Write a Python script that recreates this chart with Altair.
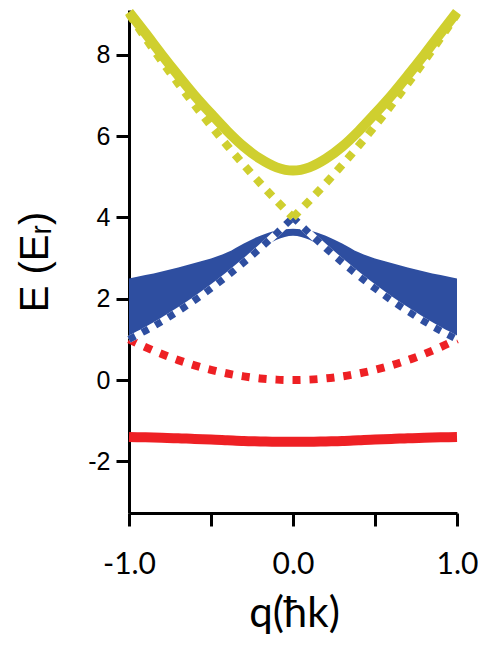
import altair as alt
import pandas as pd

q = [-1.0, -0.9, -0.8, -0.7, -0.6, -0.5, -0.4, -0.3, -0.2, -0.1, 0.0,
     0.1, 0.2, 0.3, 0.4, 0.5, 0.6, 0.7, 0.8, 0.9, 1.0]
third_band = [9.05, 8.53, 8.00, 7.49, 7.00, 6.55, 6.12, 5.74, 5.44, 5.23, 5.15,
              5.23, 5.44, 5.74, 6.12, 6.55, 7.00, 7.49, 8.00, 8.53, 9.05]
band_top = [2.50, 2.58, 2.67, 2.77, 2.88, 2.99, 3.14, 3.36, 3.55, 3.68, 3.72,
            3.68, 3.55, 3.36, 3.14, 2.99, 2.88, 2.77, 2.67, 2.58, 2.50]
band_bottom = [1.00, 1.23, 1.48, 1.74, 2.02, 2.31, 2.61, 2.92, 3.22, 3.45, 3.55,
               3.45, 3.22, 2.92, 2.61, 2.31, 2.02, 1.74, 1.48, 1.23, 1.00]
ground_band = [-1.40, -1.41, -1.42, -1.43, -1.45, -1.46, -1.48, -1.50, -1.51, -1.52, -1.52,
               -1.52, -1.51, -1.50, -1.48, -1.46, -1.45, -1.43, -1.42, -1.41, -1.40]
free_zero = [1.00, 0.81, 0.64, 0.49, 0.36, 0.25, 0.16, 0.09, 0.04, 0.01, 0.00,
             0.01, 0.04, 0.09, 0.16, 0.25, 0.36, 0.49, 0.64, 0.81, 1.00]
free_plus = [1.00, 1.21, 1.44, 1.69, 1.96, 2.25, 2.56, 2.89, 3.24, 3.61, 4.00,
             4.41, 4.84, 5.29, 5.76, 6.25, 6.76, 7.29, 7.84, 8.41, 9.00]
free_minus = [9.00, 8.41, 7.84, 7.29, 6.76, 6.25, 5.76, 5.29, 4.84, 4.41, 4.00,
              3.61, 3.24, 2.89, 2.56, 2.25, 1.96, 1.69, 1.44, 1.21, 1.00]

YELLOW = "#CFCF2F"
BLUE = "#2E4EA0"
RED = "#EE2024"

main = pd.DataFrame({"q": q, "third": third_band, "top": band_top,
                     "bottom": band_bottom, "ground": ground_band, "free0": free_zero})

rows = []
for i, qq in enumerate(q):
    if qq <= 0:
        rows.append({"q": qq, "E": free_plus[i], "branch": "plus", "seg": "low"})
        rows.append({"q": qq, "E": free_minus[i], "branch": "minus", "seg": "high"})
    if qq >= 0:
        rows.append({"q": qq, "E": free_plus[i], "branch": "plus", "seg": "high"})
        rows.append({"q": qq, "E": free_minus[i], "branch": "minus", "seg": "low"})
free = pd.DataFrame(rows)
free_low = free[free.seg == "low"]
free_high = free[free.seg == "high"]

x_axis = alt.Axis(
    values=[-1, -0.5, 0, 0.5, 1],
    labelExpr="datum.value == -1 ? '-1.0' : datum.value == 0 ? '0.0' : datum.value == 1 ? '1.0' : ''",
    labelFont="Lato", labelFontSize=30, labelColor="black",
    labelBaseline="alphabetic", labelPadding=47, labelFlush=False, labelOverlap=False,
    tickSize=13, tickWidth=3, tickColor="black",
    domainColor="black", domainWidth=3, grid=False,
    title="q(ħk)", titleFont="Lato", titleFontSize=42, titleFontWeight="normal",
    titleColor="black", titleBaseline="alphabetic", titleY=113, titleX=165,
    titleAlign="center",
)
y_axis = alt.Axis(
    values=[-2, 0, 2, 4, 6, 8],
    labelExpr="'' + datum.value",
    labelFont="Liberation Sans", labelFontSize=25, labelColor="black",
    labelPadding=6, labelFlush=False, labelOverlap=False,
    tickSize=13, tickWidth=3, tickColor="black",
    domainColor="black", domainWidth=3, grid=False,
    title="E (Eᵣ)", titleFont="Liberation Sans", titleFontSize=40, titleFontWeight="normal",
    titleColor="black", titleBaseline="alphabetic", titleAngle=270,
    titleX=-82, titleY=251.5, titleAlign="center",
)
xs = alt.Scale(domain=[-1, 1], nice=False, zero=False)
ys = alt.Scale(domain=[-3.27, 9.1], nice=False, zero=False)


def X():
    return alt.X("q:Q", scale=xs, axis=x_axis)


def Y(field):
    return alt.Y(f"{field}:Q", scale=ys, axis=y_axis)


ground = alt.Chart(main).mark_line(color=RED, strokeWidth=10, interpolate="monotone").encode(
    x=X(), y=Y("ground"))
free0 = alt.Chart(main).mark_line(color=RED, strokeWidth=8, strokeDash=[8, 9],
                                   interpolate="monotone").encode(x=X(), y=Y("free0"))
band = alt.Chart(main).mark_area(color=BLUE, opacity=1, interpolate="monotone").encode(
    x=X(), y=Y("top"), y2="bottom:Q")
white_under = alt.Chart(free_low).mark_line(color="white", strokeWidth=7,
                                             interpolate="monotone").encode(
    x=X(), y=Y("E"), detail="branch:N")
blue_dash = alt.Chart(free_low).mark_line(color=BLUE, strokeWidth=7, strokeDash=[7, 8],
                                           interpolate="monotone").encode(
    x=X(), y=Y("E"), detail="branch:N")
yellow_dash = alt.Chart(free_high).mark_line(color=YELLOW, strokeWidth=8, strokeDash=[8, 8],
                                              interpolate="monotone").encode(
    x=X(), y=Y("E"), detail="branch:N")
third = alt.Chart(main).mark_line(color=YELLOW, strokeWidth=10, interpolate="monotone").encode(
    x=X(), y=Y("third"))

chart = alt.layer(ground, free0, band, white_under, blue_dash, yellow_dash, third).properties(
    width=328, height=503,
    autosize=alt.AutoSizeParams(type="none"),
    padding={"left": 121, "top": 2, "right": 21, "bottom": 126},
).configure_view(stroke=None)

chart.save("out.html", embed_options={"renderer": "svg", "actions": False})
